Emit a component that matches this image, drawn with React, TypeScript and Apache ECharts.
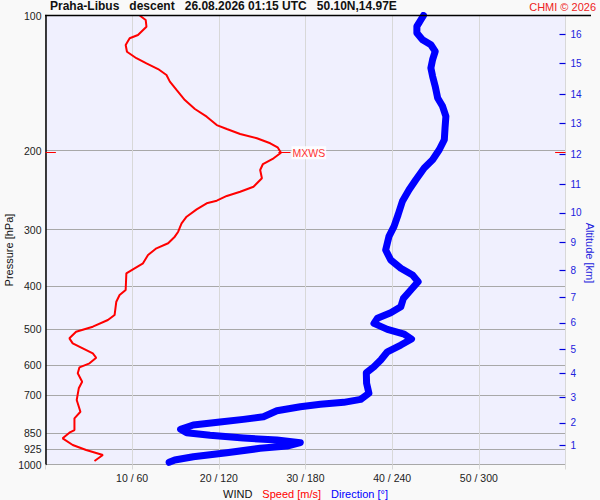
import { useEffect, useRef } from "react"
import * as echarts from "echarts"
import type { EChartsOption } from "echarts"

// wind speed profile (pressure hPa / speed m/s)
const speedPressure = [
  100, 102.3, 105.9, 110.5, 112.4, 116.3, 120.4, 124.5, 127.8, 131.6, 135.7, 140.4, 146.5, 154.3, 161.5, 168.0,
  175.4, 179.0, 183.6, 187.7, 192.6, 196.6, 202.1, 208.0, 214.2, 220.8, 230.4, 240.6, 246.9, 252.3, 258.5, 262.0,
  270.2, 280.6, 290.3, 303.1, 310.9, 321.6, 330.0, 341.5, 356.4, 367.5, 375.2, 408.6, 419.3, 433.9, 464.6, 476.7,
  493.3, 506.1, 523.6, 537.2, 551.2, 565.5, 578.4, 595.2, 607.5, 626.5, 654.1, 676.6, 718.5, 762.9, 789.1, 837.9,
  849.6, 874.3, 904.9, 928.4, 952.5, 982.2,
]
const speed = [
  10.87, 11.56, 11.65, 10.67, 9.71, 9.25, 9.4, 10.49, 11.65, 12.99, 13.96, 14.35, 15.12, 16.08, 17.24, 18.6,
  19.76, 20.92, 22.46, 24.39, 25.93, 26.78, 27.17, 26.32, 25.09, 24.77, 24.97, 24.0, 22.46, 20.92, 19.76, 18.6,
  17.44, 16.28, 15.7, 15.31, 14.92, 14.15, 12.8, 11.83, 11.25, 10.09, 9.33, 9.25, 8.55, 8.17, 7.97, 7.2,
  5.46, 3.53, 2.76, 3.14, 4.3, 5.46, 5.85, 5.08, 3.92, 3.72, 4.23, 3.84, 3.6, 4.03, 3.34, 3.34,
  2.76, 1.98, 3.14, 4.69, 6.62, 5.65,
]

// wind direction profile (pressure hPa / direction deg)
const dirPressure = [
  100, 102.2, 105.7, 109.4, 113.2, 116.2, 120.2, 125.4, 130.9, 136.6, 143.8, 152.7, 159.3, 167.7, 178.1, 189.1,
  199.1, 209.6, 218.6, 232.1, 244.4, 259.3, 277.8, 294.8, 310.3, 332.9, 350.4, 365.6, 378.4, 391.6, 408.6, 426.5,
  445.3, 459.2, 472.5, 485.0, 500.0, 512.2, 525.5, 542.0, 561.0, 585.3, 605.6, 624.6, 659.5, 694.1, 715.9, 727.0,
  734.5, 743.6, 759.0, 782.8, 793.3, 804.4, 816.8, 834.9, 849.6, 861.0, 873.0, 882.0, 894.3, 909.6, 920.4, 941.4,
  960.8, 977.2, 988.8,
]
const direction = [
  261.7, 259.9, 257.1, 257.1, 261.0, 266.8, 269.8, 268.0, 266.8, 268.0, 269.8, 271.5, 274.9, 277.2, 276.6, 276.1,
  272.6, 268.0, 262.2, 256.4, 251.7, 247.1, 244.1, 241.3, 237.8, 235.5, 239.0, 246.0, 254.1, 258.0, 252.9, 247.8,
  246.0, 239.0, 229.8, 227.4, 236.7, 248.3, 253.4, 246.0, 236.7, 232.1, 227.4, 222.1, 222.3, 223.9, 218.2, 206.5,
  190.3, 176.4, 160.2, 150.9, 137.0, 120.8, 102.3, 93.5, 97.7, 113.9, 137.0, 160.2, 176.4, 167.2, 148.6, 125.5,
  102.3, 89.5, 85.6,
]

const pressureTicks = [100, 200, 300, 400, 500, 600, 700, 850, 925, 1000]
const altitudeKm = [1, 2, 3, 4, 5, 6, 7, 8, 9, 10, 11, 12, 13, 14, 15, 16]
const altitudePressure = [
  904.9, 807.3, 710.0, 626.5, 553.2, 484.0, 424.4, 370.2, 320.0, 275.0, 237.7, 203.5, 173.9, 149.8, 127.6, 110.1,
]

const FONT = "'Liberation Sans', Arial, sans-serif"

export default function App() {
  const chartRef = useRef<HTMLDivElement>(null)

  useEffect(() => {
    if (!chartRef.current) return
    const chart = echarts.init(chartRef.current, null, { renderer: "svg" })

    let maxIdx = 0
    speed.forEach((s, i) => {
      if (s > speed[maxIdx]) maxIdx = i
    })
    const pMax = speedPressure[maxIdx]
    const sMax = speed[maxIdx]

    const option: EChartsOption = {
      animation: false,
      backgroundColor: "#f9f9f9",
      textStyle: { fontFamily: FONT },
      grid: {
        left: 45.5,
        right: 34.5,
        top: 15.5,
        bottom: 35.5,
        show: true,
        backgroundColor: "#f0f0fe",
        borderWidth: 0,
        containLabel: false,
        outerBoundsMode: "none",
      } as any,
      xAxis: [
        {
          type: "value",
          min: 0,
          max: 60,
          interval: 10,
          axisLine: { show: false },
          axisTick: { show: true, length: 5, lineStyle: { color: "#d8d8d8" } },
          axisLabel: {
            color: "#222",
            fontSize: 10.5,
            margin: 8,
            formatter: (v: number) => (v === 0 || v === 60 ? "" : `${v} / ${v * 6}`),
          },
          splitLine: { lineStyle: { color: "#d8d8d8", width: 1 } },
          name: "{k|WIND}   {r|Speed [m/s]}   {b|Direction [°]}",
          nameLocation: "middle",
          nameGap: 21,
          nameTextStyle: {
            rich: {
              k: { color: "#111", fontSize: 11, fontFamily: FONT },
              r: { color: "#ff0000", fontSize: 11, fontFamily: FONT },
              b: { color: "#0000ff", fontSize: 11, fontFamily: FONT },
            },
          },
        },
        { type: "value", min: 0, max: 360, show: false },
      ],
      yAxis: [
        {
          type: "log",
          logBase: 10,
          min: 100,
          max: 1000,
          inverse: true,
          axisLine: { show: true, onZero: false, lineStyle: { color: "#000", width: 1.5 } },
          axisTick: { show: false, customValues: pressureTicks },
          axisLabel: {
            customValues: pressureTicks,
            color: "#222",
            fontSize: 10.5,
            margin: 4,
            formatter: (v: number) => String(Math.round(v)),
          },
          splitLine: { show: true, lineStyle: { color: "#a8a8a8", width: 1 } },
        },
        {
          type: "log",
          logBase: 10,
          min: 100,
          max: 1000,
          inverse: true,
          position: "right",
          axisLine: { show: false, onZero: false },
          axisTick: {
            show: true,
            inside: true,
            length: 6,
            customValues: altitudePressure,
            lineStyle: { color: "#0000dd", width: 1.2 },
          },
          axisLabel: {
            customValues: altitudePressure,
            color: "#2222dd",
            fontSize: 10,
            margin: 5,
            formatter: (v: number) => {
              const i = altitudePressure.findIndex((p) => Math.abs(p - v) < 0.5)
              return i >= 0 ? String(altitudeKm[i]) : ""
            },
          },
          splitLine: { show: false },
        },
      ],
      series: [
        {
          name: "Direction",
          type: "line",
          xAxisIndex: 1,
          yAxisIndex: 0,
          showSymbol: false,
          smooth: false,
          data: direction.map((d, i) => [d, dirPressure[i]]),
          lineStyle: { color: "#0000ff", width: 7, cap: "round", join: "round" },
        },
        {
          name: "Speed",
          type: "line",
          xAxisIndex: 0,
          yAxisIndex: 0,
          showSymbol: false,
          data: speed.map((s, i) => [s, speedPressure[i]]),
          lineStyle: { color: "#ff0000", width: 2 },
          markLine: {
            silent: true,
            symbol: "none",
            lineStyle: { color: "#ff0000", width: 1, type: "solid" },
            label: { show: false },
            data: [
              [{ coord: [0, pMax] }, { coord: [1.2, pMax] }],
              [
                { coord: [sMax - 0.3, pMax] },
                {
                  coord: [sMax + 1.1, pMax],
                  label: {
                    show: true,
                    position: "end",
                    formatter: "MXWS",
                    color: "#ff3333",
                    fontSize: 10.5,
                    distance: 1,
                    backgroundColor: "rgba(255,255,255,0.85)",
                    padding: [1, 1],
                  },
                },
              ],
              [{ coord: [58.8, pMax] }, { coord: [60, pMax] }],
            ] as any,
          },
        },
      ],
      graphic: [
        {
          type: "line",
          shape: { x1: 45, y1: 15.5, x2: 591, y2: 15.5 },
          style: { stroke: "#000", lineWidth: 1.5 },
          z: 100,
        },
        {
          type: "text",
          left: 50,
          top: 0,
          style: {
            text: "Praha-Libus   descent   26.08.2026 01:15 UTC   50.10N,14.97E",
            font: `bold 12px ${FONT}`,
            fill: "#111",
          },
        },
        {
          type: "text",
          right: 4,
          top: 1,
          style: {
            text: "CHMI © 2026",
            font: `11px ${FONT}`,
            fill: "#ee2222",
          },
        },
        {
          type: "text",
          x: 8.5,
          y: 250,
          rotation: Math.PI / 2,
          style: {
            text: "Pressure [hPa]",
            font: `11px ${FONT}`,
            fill: "#111",
            align: "center",
            verticalAlign: "middle",
          },
        },
        {
          type: "text",
          x: 590,
          y: 253,
          rotation: -Math.PI / 2,
          style: {
            text: "Altitude [km]",
            font: `11px ${FONT}`,
            fill: "#2222dd",
            align: "center",
            verticalAlign: "middle",
          },
        },
      ],
    }

    chart.setOption(option)

    const handleResize = () => {
      chart.resize()
    }
    window.addEventListener("resize", handleResize)

    return () => {
      window.removeEventListener("resize", handleResize)
      chart.dispose()
    }
  }, [])

  return (
    <div
      ref={chartRef}
      style={{ position: "absolute", left: 0, top: 0, width: "600px", height: "500px" }}
    />
  )
}
